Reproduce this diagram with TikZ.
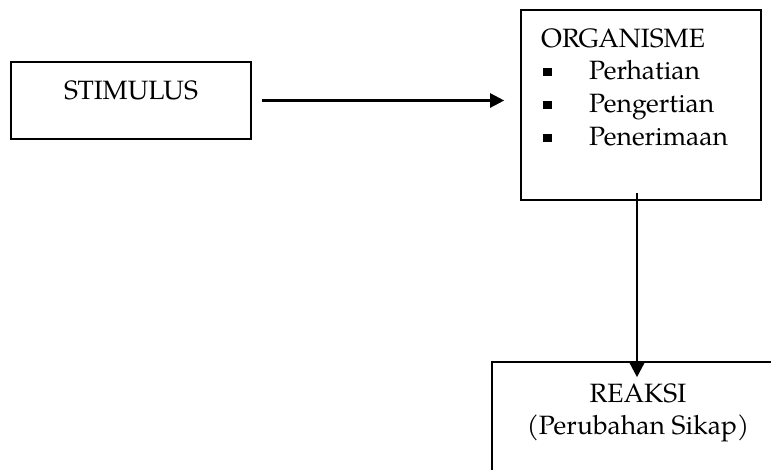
\documentclass[tikz,border=0pt]{standalone}
\usepackage{fontspec}
\setmainfont{TeX Gyre Pagella}
\usetikzlibrary{arrows.meta,calc}
\tikzset{
  box/.style={draw=black, line width=1.6pt, rectangle, inner sep=0pt},
  lbl/.style={inner sep=0pt, font=\fontsize{26.5}{31}\selectfont},
  bul/.style={fill=black, inner sep=0pt, minimum size=8.5pt, rectangle},
  conn/.style={line width=2.4pt, -{Triangle[length=14pt,width=14pt]}}
}
\begin{document}
\begin{tikzpicture}[x=1pt,y=-1pt]
\useasboundingbox (0,0) rectangle (771,470);
\begin{scope}
\clip (0,0) rectangle (771,470);
\node[box, minimum width=240pt, minimum height=77pt] (stim) at (131,100.5) {};
\node[lbl, anchor=base] (stimt) at (131,100) {STIMULUS};
\node[box, minimum width=240pt, minimum height=190pt] (org) at (641,105) {};
\node[lbl, anchor=base west] (orgt) at (541,48) {ORGANISME};
\node[bul] (b1) at (547.5,72) {};
\node[bul] (b2) at (547.5,105) {};
\node[bul] (b3) at (547.5,138) {};
\node[lbl, anchor=base west] (i1) at (589,80) {Perhatian};
\node[lbl, anchor=base west] (i2) at (589,113) {Pengertian};
\node[lbl, anchor=base west] (i3) at (589,146) {Penerimaan};
\node[box, minimum width=294pt, minimum height=160pt] (rea) at (639,442) {};
\node[lbl, anchor=base] (r1) at (638,402) {REAKSI};
\node[lbl, anchor=base] (r2) at (638,434) {(Perubahan Sikap)};
\coordinate (hs) at ($(stim.east)+(10,0)$);
\coordinate (he) at ($(org.west|-stim.east)+(-16,0)$);
\draw[conn] (hs) -- (he);
\coordinate (vs) at ($(org.south)+(-4,-8)$);
\draw[conn] (vs) -- (vs|-rea.north) -- ++(0,16);
\end{scope}
\end{tikzpicture}
\end{document}
